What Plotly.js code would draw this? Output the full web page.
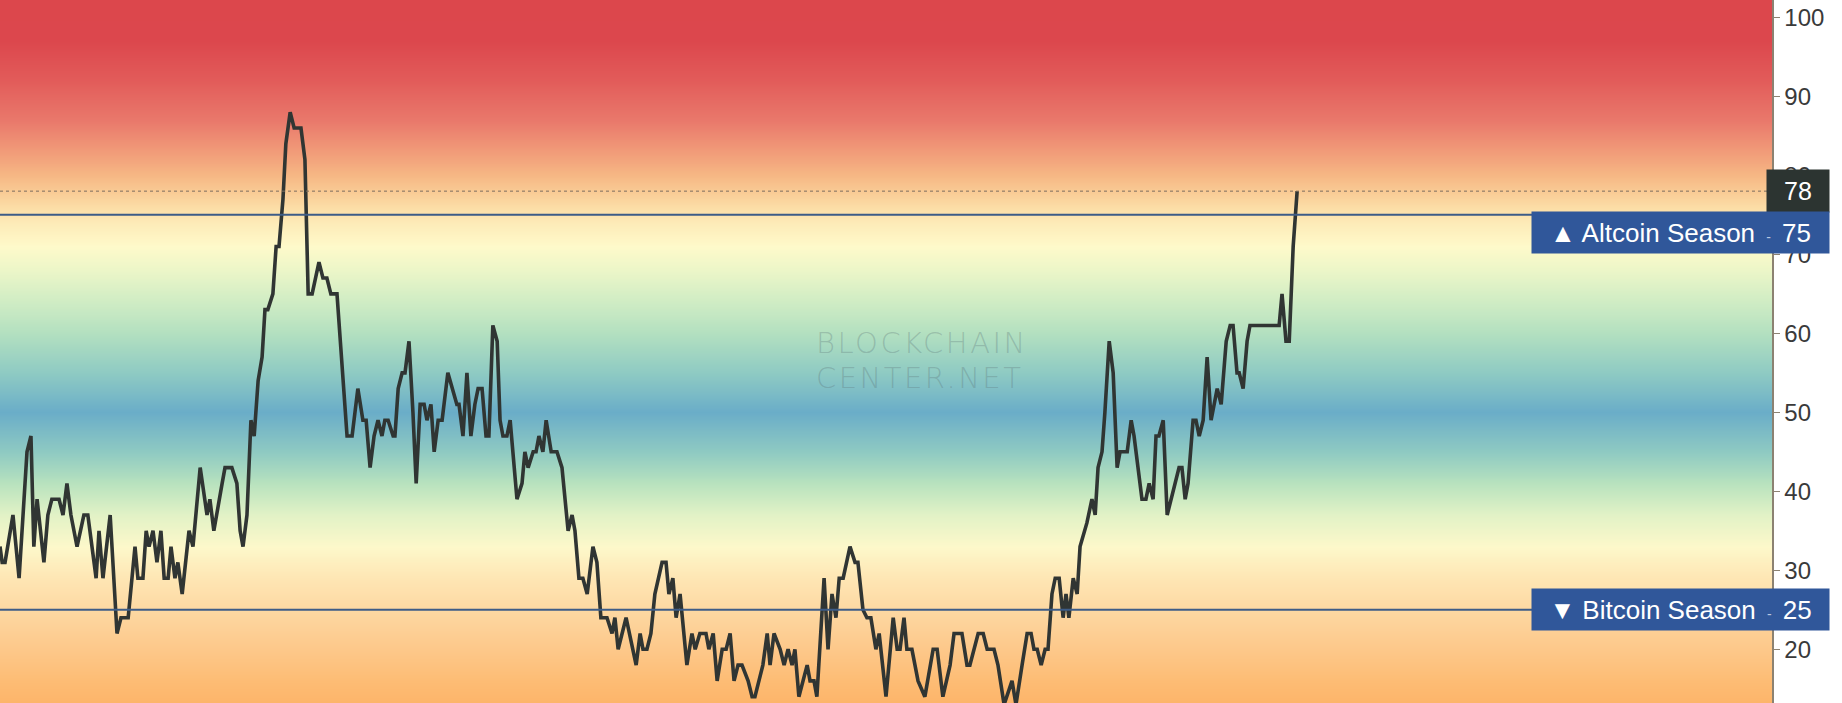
<!DOCTYPE html>
<html>
<head>
<meta charset="utf-8">
<script src="https://cdn.plot.ly/plotly-3.0.1.min.js"></script>
<style>
  html, body { margin: 0; padding: 0; background: #ffffff; }
  #chart { width: 1842px; height: 703px; }
</style>
</head>
<body>
<div id="chart"></div>
<script>
// ---- Data (x = day index, y = Altcoin Season Index) ----
const days = [
  0.0, 0.6, 1.4, 3.6, 5.3, 7.5, 8.6, 9.4, 10.3, 12.2, 13.3, 14.4, 16.4, 17.5, 18.6, 19.7,
  21.4, 23.3, 24.4, 26.7, 27.5, 28.6, 30.6, 32.5, 33.6, 35.6, 37.5, 38.3, 39.7, 40.6, 41.4,
  42.5, 43.6, 44.7, 45.6, 46.7, 47.5, 48.6, 49.4, 50.6, 52.5, 53.6, 55.6, 57.5, 58.3, 59.4,
  61.7, 62.5, 64.4, 65.8, 66.7, 67.5, 68.6, 69.7, 70.6, 71.7, 72.8, 73.6, 74.4, 75.8, 76.7,
  77.5, 78.6, 79.4, 80.6, 81.7, 83.6, 84.7, 85.6, 86.7, 88.6, 89.7, 90.8, 91.9, 93.6, 96.4,
  97.8, 99.4, 100.8, 101.7, 102.8, 103.9, 105.0, 106.1, 106.9, 107.8, 109.2, 109.7, 110.6,
  111.7, 112.5, 113.6, 114.7, 115.6, 116.7, 117.8, 118.6, 119.7, 120.6, 121.7, 122.8, 123.6,
  124.4, 126.9, 127.5, 128.6, 129.7, 130.8, 131.9, 132.8, 133.9, 135.0, 135.8, 136.9, 138.1,
  138.9, 139.7, 140.8, 141.7, 143.6, 145.0, 145.8, 146.7, 148.1, 148.9, 149.7, 150.8, 151.7,
  153.1, 154.7, 156.1, 157.8, 158.9, 159.7, 160.8, 161.9, 163.1, 164.7, 165.8, 166.9, 168.6,
  170.0, 170.8, 171.7, 173.9, 176.7, 177.8, 178.6, 179.7, 180.8, 181.9, 183.9, 185.0, 185.8,
  186.9, 187.8, 188.9, 190.8, 192.2, 193.1, 194.4, 196.1, 196.9, 198.1, 199.2, 200.6, 201.7,
  202.8, 203.9, 205.0, 206.1, 207.8, 208.9, 209.7, 211.9, 213.1, 213.9, 215.0, 216.7, 217.8,
  218.9, 220.0, 220.8, 221.9, 224.2, 225.0, 226.1, 226.9, 228.9, 230.0, 231.1, 232.2, 233.1,
  234.2, 236.1, 237.5, 238.3, 239.7, 240.8, 241.9, 243.3, 244.2, 246.1, 248.1, 249.2, 250.0,
  251.1, 251.9, 253.3, 255.0, 256.9, 259.2, 260.3, 261.9, 263.9, 265.0, 267.2, 268.6, 269.4,
  271.7, 273.1, 274.2, 276.1, 277.2, 278.9, 281.1, 282.2, 283.9, 285.3, 286.4, 287.2, 288.1,
  289.2, 290.3, 291.1, 292.2, 293.1, 294.2, 295.3, 296.1, 296.9, 298.1, 299.2, 300.0, 301.9,
  303.3, 304.2, 305.0, 306.1, 306.9, 308.1, 309.2, 310.3, 311.1, 313.1, 314.2, 315.0, 317.2,
  318.3, 319.2, 320.3, 321.1, 321.9, 323.1, 324.2, 327.5, 328.3, 329.2, 330.0, 331.4, 332.2,
  333.1, 334.2, 335.3, 336.4, 338.1, 339.2, 340.6, 341.7, 342.5, 343.6, 344.2, 345.3, 346.4,
  347.2, 355.3, 356.1, 357.2, 358.1, 359.2, 360.3
];
const altIndex = [
  33, 31, 31, 37, 29, 45, 47, 33, 39, 31, 37, 39, 39, 37, 41, 37,
  33, 37, 37, 29, 35, 29, 37, 22, 24, 24, 33, 29, 29, 35, 33,
  35, 31, 35, 29, 29, 33, 29, 31, 27, 35, 33, 43, 37, 39, 35,
  41, 43, 43, 41, 35, 33, 37, 49, 47, 54, 57, 63, 63, 65, 71,
  71, 77, 84, 88, 86, 86, 82, 65, 65, 69, 67, 67, 65, 65, 47,
  47, 53, 49, 49, 43, 47, 49, 47, 49, 49, 47, 47, 53,
  55, 55, 59, 50, 41, 51, 51, 49, 51, 45, 49, 49, 52,
  55, 51, 51, 47, 55, 47, 51, 53, 53, 47, 47, 61, 59,
  49, 47, 47, 49, 39, 41, 45, 43, 45, 45, 47, 45, 49,
  45, 45, 43, 35, 37, 35, 29, 29, 27, 33, 31, 24, 24,
  22, 24, 20, 24, 18, 22, 20, 20, 22, 27, 31, 31, 27,
  29, 24, 27, 18, 22, 20, 22, 22, 20, 22, 16, 20, 20,
  22, 16, 18, 18, 16, 14, 14, 18, 22, 18, 22, 20, 18,
  20, 18, 20, 14, 18, 16, 16, 14, 29, 20, 27, 24, 29,
  29, 33, 31, 31, 25, 24, 24, 20, 22, 14, 24, 20, 20,
  24, 20, 20, 16, 14, 20, 20, 14, 18, 22, 22, 18, 18,
  22, 22, 20, 20, 18, 13, 16, 13, 18, 22, 22, 20, 20,
  18, 20, 20, 27, 29, 29, 24, 27, 24, 29, 27, 33, 36,
  39, 37, 43, 45, 50, 59, 55, 43, 45, 45, 49, 47, 39,
  39, 41, 39, 47, 47, 49, 37, 43, 43, 39, 41, 49, 49,
  47, 49, 57, 49, 53, 51, 59, 61, 61, 55, 55, 53, 59,
  61, 61, 65, 59, 59, 71, 78
];
const tickValues = [20, 30, 40, 50, 60, 70, 80, 90, 100];
const altcoinLevel = 75;
const bitcoinLevel = 25;
const lastValue = 78;
const altcoinLabel = "▲ Altcoin Season";
const bitcoinLabel = "▼ Bitcoin Season";
const watermarkLines = ["BLOCKCHAIN", "CENTER.NET"];

// ---- Styling ----
const Y_RANGE = [13.2, 102.2];
const X_RANGE = [0, 492.2];
const gradientStops = [
  [10, "#fdb063"], [13, "#fdb469"], [16, "#fdbc74"], [20, "#fdc88a"], [25, "#fdd8a2"],
  [29, "#fee6b4"], [33, "#fdf8ca"], [37, "#e2f2c6"], [41, "#b8e2be"], [45, "#8fcac2"],
  [50, "#6aadc8"], [55, "#8ecac3"], [60, "#b3e0c0"], [64, "#cfecc4"], [68, "#ecf6c8"],
  [71, "#fefaca"], [74, "#fdebb8"], [76, "#fcdda6"], [78, "#f9ca94"], [80, "#f6b784"],
  [83, "#f19c79"], [87, "#e9786b"], [92, "#e25c5a"], [97, "#dc474d"], [102, "#dc474c"],
  [106, "#dc474c"]
];
const zMin = 10, zMax = 106;
const colorscale = gradientStops.map(s => [(s[0] - zMin) / (zMax - zMin), s[1]]);
const gridY = [];
for (let v = zMin; v <= zMax; v += 0.5) gridY.push(v);
const gridZ = gridY.map(v => [v, v]);

const FONT = "Liberation Sans, Arial, sans-serif";
const BOX_BLUE = "#30579a";
const DASH = "<span style='color:#b9c7e0;font-size:14px'> - </span> ";

const traces = [
  {
    type: "heatmap",
    x: [-20, 520],
    y: gridY,
    z: gridZ,
    zmin: zMin, zmax: zMax,
    colorscale: colorscale,
    zsmooth: "best",
    showscale: false,
    hoverinfo: "skip"
  },
  {
    type: "scatter",
    mode: "lines",
    x: days,
    y: altIndex,
    line: { color: "#303533", width: 3.6, shape: "linear" },
    hoverinfo: "skip"
  }
];

const WM_FONT = { family: "DejaVu Sans, sans-serif", size: 29, weight: 200, color: "rgba(90,112,116,0.3)" };

const layout = {
  width: 1842,
  height: 703,
  margin: { l: 0, r: 70, t: 0, b: 0, pad: 0 },
  paper_bgcolor: "#ffffff",
  plot_bgcolor: "#ffffff",
  showlegend: false,
  font: { family: FONT, color: "#3c3c3c" },
  xaxis: {
    range: X_RANGE,
    visible: false,
    fixedrange: true
  },
  yaxis: {
    side: "right",
    range: Y_RANGE,
    tickvals: tickValues,
    ticktext: tickValues.map(String),
    ticks: "outside",
    ticklen: 6,
    tickwidth: 1.5,
    tickcolor: "#8c8272",
    showline: true,
    linecolor: "#8c8272",
    linewidth: 1.5,
    showgrid: false,
    zeroline: false,
    tickfont: { family: FONT, size: 24, color: "#3a3a3a" },
    fixedrange: true
  },
  shapes: [
    { type: "line", xref: "paper", x0: 0, x1: 1, yref: "y", y0: lastValue, y1: lastValue,
      line: { color: "#7d6e5e", width: 1, dash: "dot" } },
    { type: "line", xref: "paper", x0: 0, x1: 1, yref: "y", y0: altcoinLevel, y1: altcoinLevel,
      line: { color: "#3d5c87", width: 2 } },
    { type: "line", xref: "paper", x0: 0, x1: 1, yref: "y", y0: bitcoinLevel, y1: bitcoinLevel,
      line: { color: "#3d5c87", width: 2 } }
  ],
  annotations: [
    {
      xref: "paper", yref: "y", x: 814 / 1772, xanchor: "left", y: 58.8, yanchor: "middle",
      text: "<span style='letter-spacing:2.5px'>" + watermarkLines[0] + "</span>", showarrow: false,
      font: WM_FONT, align: "left"
    },
    {
      xref: "paper", yref: "y", x: 814 / 1772, xanchor: "left", y: 54.4, yanchor: "middle",
      text: "<span style='letter-spacing:2.5px'>" + watermarkLines[1] + "</span>", showarrow: false,
      font: WM_FONT, align: "left"
    },
    {
      xref: "paper", yref: "y", x: 1830 / 1772, xanchor: "right", y: lastValue, yanchor: "middle",
      text: String(lastValue), showarrow: false,
      width: 62, height: 42, bgcolor: "#2c3431", borderpad: 0,
      font: { family: FONT, size: 25, color: "#ffffff" }, align: "center"
    },
    {
      xref: "paper", yref: "y", x: 1830 / 1772, xanchor: "right", y: 72.8, yanchor: "middle",
      text: altcoinLabel + " " + DASH + altcoinLevel,
      showarrow: false,
      width: 297, height: 41, bgcolor: BOX_BLUE, borderpad: 0,
      font: { family: FONT, size: 26, color: "#ffffff" }, align: "center"
    },
    {
      xref: "paper", yref: "y", x: 1830 / 1772, xanchor: "right", y: bitcoinLevel, yanchor: "middle",
      text: bitcoinLabel + " " + DASH + bitcoinLevel,
      showarrow: false,
      width: 297, height: 41, bgcolor: BOX_BLUE, borderpad: 0,
      font: { family: FONT, size: 26, color: "#ffffff" }, align: "center"
    }
  ]
};

Plotly.newPlot("chart", traces, layout, { displayModeBar: false, staticPlot: true });
</script>
</body>
</html>
